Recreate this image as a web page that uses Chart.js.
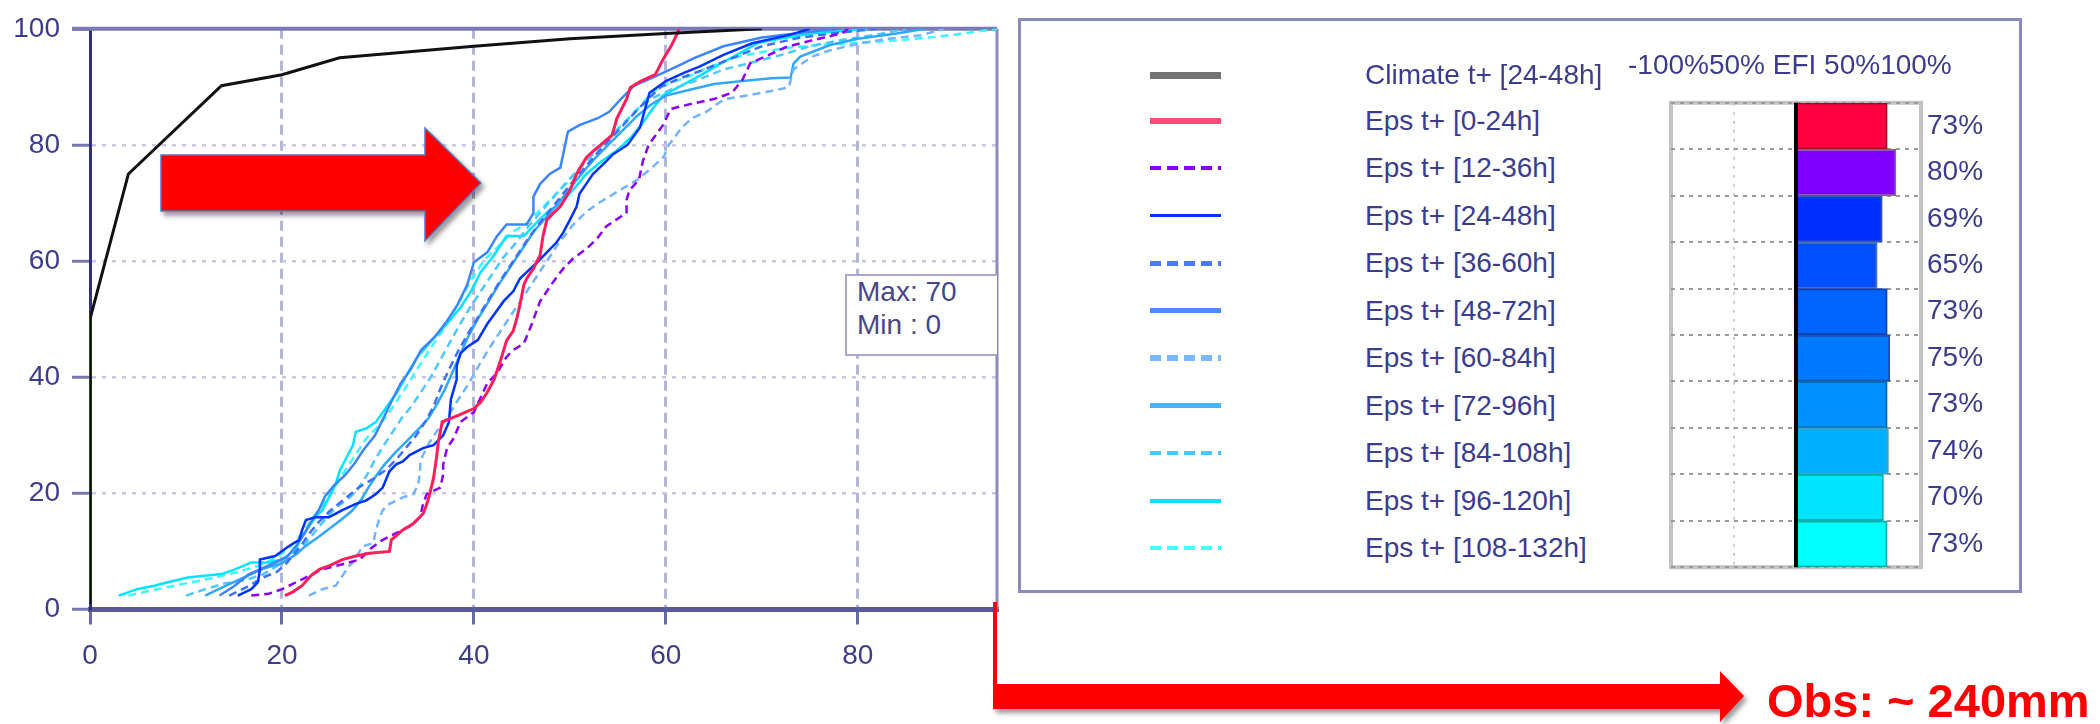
<!DOCTYPE html>
<html><head><meta charset="utf-8">
<script src="https://cdn.jsdelivr.net/npm/chart.js@4.4.1/dist/chart.umd.min.js"></script>
<style>
html,body{margin:0;padding:0;background:#fff;width:2100px;height:724px;overflow:hidden;font-family:'Liberation Sans',Arial,sans-serif;}
.abs{position:absolute;}
#c1{position:absolute;left:0;top:0;}
#c2{position:absolute;left:1640px;top:80px;}
.txt{position:absolute;font-size:28px;color:#3c3c8c;line-height:34px;white-space:nowrap;}
</style></head><body>
<div id="legendBox" class="abs" style="left:1018px;top:18px;width:998px;height:569px;border:3px solid #8a8abc;"></div>
<canvas id="c1" width="1000" height="724"></canvas>
<canvas id="c2" width="400" height="510"></canvas>
<div class="abs" style="left:845px;top:274px;width:150px;height:78px;border:2px solid #a8a8cc;border-right:none;background:#fff;"></div>
<div class="txt" style="left:857px;top:275px;color:#46468a;">Max: 70</div>
<div class="txt" style="left:857px;top:308px;color:#46468a;">Min : 0</div>
<div class="txt" style="left:1628px;top:48px;">-100%50% EFI 50%100%</div>
<div id="legend"></div>
<svg class="abs" style="left:0;top:0;pointer-events:none" width="2100" height="724">
<defs><filter id="sh" x="-10%" y="-20%" width="130%" height="160%"><feDropShadow dx="3" dy="4" stdDeviation="2.5" flood-color="#000" flood-opacity="0.4"/></filter></defs>
<polygon points="161,155 425,155 425,128 481,183 425,241 425,211 161,211" fill="#ff0000" stroke="#5a78b4" stroke-width="1.5" filter="url(#sh)"/>
<line x1="995" y1="602" x2="995" y2="690" stroke="#ff0000" stroke-width="4"/>
<polygon points="993,684 1720,684 1720,671 1744,696 1720,722 1720,709 993,709" fill="#ff0000" filter="url(#sh)"/>
</svg>
<div class="abs" style="left:1767px;top:673px;font-size:47px;line-height:56px;font-weight:bold;color:#ff0000;white-space:nowrap;">Obs: ~ 240mm</div>
<script>
// ---------- data ----------
const xTickValues = [0, 20, 40, 60, 80];
const yTickValues = [0, 20, 40, 60, 80, 100];
const efiTicks = [-100, -50, 0, 50, 100];

const climateLabel = 'Climate t+ [24-48h]';
const epsLabels = ['Eps t+ [0-24h]','Eps t+ [12-36h]','Eps t+ [24-48h]','Eps t+ [36-60h]','Eps t+ [48-72h]','Eps t+ [60-84h]','Eps t+ [72-96h]','Eps t+ [84-108h]','Eps t+ [96-120h]','Eps t+ [108-132h]'];
const efiValues = [73, 80, 69, 65, 73, 75, 73, 74, 70, 73];

const climate = [[0,1],[0,50],[4,75],[13.7,90.2],[20,92.1],[26,95],[33,96],[40,97],[50,98.3],[60,99.2],[70,100]];

const eps0_24 = [[20.3,2.4],[21.1,3],[22.1,4.1],[23,5.8],[23.9,6.9],[24.9,7.5],[26.3,8.6],[27.7,9.2],[29.1,9.7],[31.2,10],[31.4,12],[32.6,13.7],[33.7,14.8],[34.7,16.5],[35.1,18.2],[35.4,19.9],[35.8,22.7],[36.1,26.1],[36.3,28.9],[36.7,32.3],[38.3,33.4],[40,34.6],[40.7,35.7],[41.4,37.4],[42.1,39.6],[42.8,43],[43.4,46.3],[44.1,48],[44.5,50.3],[44.8,52.5],[45.2,55.9],[45.5,57],[46.2,58.7],[46.9,61],[47.2,64.3],[47.6,67.1],[48.3,68.3],[49,69.4],[50,72.2],[50.7,75],[51.7,77.8],[52.4,78.9],[53.2,80],[54.4,81.7],[54.9,84.6],[55.9,87.9],[56.3,89.9],[57.4,91],[58.9,92.1],[59.7,94.7],[60.5,96.9],[61.2,99.2],[61.4,100]];

const eps12_36 = [[16.8,2.4],[18.6,2.7],[20,3.5],[22.1,5.2],[24.2,6.9],[26.3,7.8],[28.1,8.6],[29.1,10.3],[30.2,11.7],[31.2,12.6],[33.3,14.3],[34.4,15.9],[34.7,18.2],[35.1,19.9],[36.5,21],[36.8,23.3],[36.8,25],[37.2,27.8],[37.9,29.5],[38.6,32.3],[40,34],[41.4,39],[42.4,40.7],[43.4,43.5],[44.1,44.7],[45.2,45.8],[45.9,48.6],[46.9,53.1],[47.6,54.8],[48.3,56.5],[49.3,58.7],[50.3,60.4],[51.7,62.1],[52.8,63.8],[53.8,66],[54.8,67.1],[55.9,68.3],[55.9,70.5],[56.2,72.2],[57.2,74],[57.6,77.2],[58.2,80],[59.7,83.4],[60.5,86.2],[62.7,87.1],[65,87.9],[66.9,89],[68,91.3],[68.8,94.1],[70.3,95.2],[72.6,96.9],[75.2,98],[78.3,99.2],[79,100]];

const eps24_48 = [[15.4,2.4],[16.8,3.5],[17.5,4.7],[17.7,6.9],[17.7,8.6],[19.3,9.2],[20.7,10.9],[21.8,12],[22.1,13.7],[22.5,15.4],[23.5,15.9],[24.9,15.9],[26.3,17.1],[27.7,18.2],[28.8,18.8],[29.8,19.9],[30.5,21],[31.2,23.8],[31.9,25],[32.6,25.5],[33.3,26.6],[34.7,27.8],[35.8,28.3],[36.8,30],[37.4,32.3],[37.6,36.2],[38.2,39.6],[38.2,41.9],[38.6,44.1],[39.3,45.2],[40.4,46.4],[41.4,49.2],[42.1,50.8],[43.1,53.1],[44.1,54.8],[44.8,57],[45.5,58.1],[46.6,59.8],[47.6,61.5],[48.6,63.2],[49.3,64.9],[50,67.1],[50.7,69.4],[51,71.6],[51.7,73.3],[52.4,75],[53.1,76.1],[53.8,77.2],[54.5,78.4],[56,80],[57.3,83],[57.8,86],[58.3,89],[60,91],[62,92.5],[63.5,93.5],[66,95.5],[69,97.5],[73,99],[75,100]];

const eps36_60 = [[14.5,2.4],[16.5,4],[18,5.5],[19.5,6.5],[20.5,8],[21.2,9.5],[22,11],[22.8,13],[23.8,15],[25,17],[26.5,19],[28,21],[29.5,22.5],[30.8,24],[32,26],[33,28],[34,30],[35,32.5],[35.8,35],[36.5,38],[37.3,41],[38.2,44],[39.2,47],[40.3,50],[41.4,53],[42.5,56],[43.5,58.5],[44.5,61],[45.5,63.5],[46.6,66],[47.8,68.5],[49,71],[50.2,73.5],[51.5,76],[52.8,78.5],[54.2,81],[55.6,83.5],[57,86],[58.2,88],[59.5,90],[61.5,91.5],[64,93],[67,95],[70,97],[74,98.5],[79,99.5],[82,100]];

const eps48_72 = [[13.5,2.4],[15,4],[16.5,6],[18.5,7.5],[20.5,9],[21.5,11],[22.3,13],[23,15],[23.8,17],[24.5,19.5],[25.5,21.5],[26.5,23],[27.5,25],[28.5,27.5],[29.7,30],[30.7,33.4],[31.7,36.8],[32.4,39],[33.4,41.3],[34.5,44.7],[35.9,46.9],[37.2,49.7],[38.3,52.5],[39.3,55.9],[40,59.8],[41.4,61.5],[42.4,64.3],[43.4,66.3],[45.5,66.3],[46.2,68.3],[46.2,71.1],[46.9,73.3],[47.9,75],[49,76.1],[49.3,78.4],[49.8,82.3],[51,83.4],[52.9,84.6],[54.1,85.7],[55.3,87.9],[56.7,90.2],[58.5,91.5],[60.5,93],[63,95],[66,97],[70,98.5],[75,99.5],[78,100]];

const eps60_84 = [[22.8,2.4],[24.2,3.5],[25.6,4.1],[26.3,5.8],[27,7.5],[27.4,8.1],[28.4,10.9],[29.5,11.4],[29.8,13.7],[30.2,15.9],[30.5,17.1],[31.2,18.2],[32.6,19.3],[33.7,19.9],[34.2,21.6],[34.4,23.8],[34.4,25.5],[34.7,26.6],[35.4,28.9],[36.1,30.6],[37.2,33],[38.3,36],[39.5,39],[40.5,42],[41.6,45],[42.8,48],[44,51],[45.2,54],[46.4,57],[47.6,60],[48.8,63],[50.2,66],[51.7,68.5],[53,70],[55,72],[57,74],[58.5,76],[59.8,78],[60.3,80],[61,81.5],[61.6,82.9],[62.7,84.6],[64.2,85.7],[66.1,87.9],[68.4,88.5],[71,89.3],[72.8,89.9],[73.3,93],[75.2,95.2],[77.1,96.3],[80.2,97.5],[83.2,98.3],[86.6,98.9],[89,100]];

const eps72_96 = [[12,2.4],[14,4],[16,5.5],[18,7],[20,8],[21.5,9.5],[22.5,11],[23.8,12.5],[25,14],[26.2,15.5],[27.3,17],[28.3,19],[29,21],[29.8,23],[30.7,25],[31.8,27],[33,29],[34.2,31],[35.3,33],[36.2,35.5],[37,38],[37.8,41],[38.6,44],[39.4,47],[40.4,50],[41.5,53],[42.6,56],[43.8,59],[45,62],[46.2,65],[47.5,67.5],[48.8,70],[50,72.5],[51.2,75],[52.5,77.5],[54,80],[55.5,82.5],[57,85],[58.5,87],[60,88.5],[62.5,89.5],[65,90.5],[68,91],[71,91.5],[73,91.6],[73.3,94],[74,95.2],[77.1,97.2],[80,98.3],[84,99.2],[87,100]];

const eps84_108 = [[10,2.4],[12,3.5],[14,4.5],[16,5],[18,6],[19.5,7.5],[21,9],[22,10.5],[23,12.5],[24,14.5],[25,16.5],[26,18],[27.2,19.5],[28,21],[28.8,23],[29.6,25.5],[30.5,28],[31.5,30.5],[32.5,33],[33.5,35],[34.5,37.5],[35.5,40],[36.5,43],[37.5,46],[38.5,49],[39.6,52],[40.8,55],[42,58],[43,60.5],[44.3,63],[45.7,66],[47,68.5],[48.3,71],[49.6,73.5],[51,76],[52.5,78.5],[54,81],[55.5,83.5],[57,86],[58.5,88],[60.5,89.5],[63,91],[66,93],[68.5,94],[72,95.5],[75,97],[78,98],[82,99],[85,100]];

const eps96_120 = [[3,2.4],[4.9,3.5],[6.7,4.1],[8.1,4.7],[10.2,5.5],[11.9,5.8],[13.7,6.1],[15.1,6.9],[16.8,8.1],[18.6,8.1],[20,8.6],[21.4,10.3],[22.1,12.6],[22.8,14.3],[23.5,15.9],[24.2,17.1],[24.9,19.3],[25.6,21.6],[26,23.8],[26.7,26.1],[27.4,28.3],[27.7,30.6],[28.8,31.2],[29.8,32.3],[31,35.1],[32,37.4],[33.1,40.7],[34.1,43.5],[35.9,46.9],[37.2,49.2],[38.6,52],[39.7,54.8],[40.7,58.1],[42.1,61],[43.4,64.3],[45.2,64.3],[46.8,67.1],[47.9,68.8],[49.1,69.9],[50.6,72.8],[51.7,75],[53.3,77.2],[54.8,78.9],[56.3,81.2],[57.4,83.4],[58.6,86.2],[59.7,88.5],[61.6,90.2],[63.5,91.9],[65.8,94.1],[67.7,95.8],[69.5,97.5],[71.8,98.3],[75.2,99.2],[79,99.7],[81,100]];

const eps108_132 = [[4,2.4],[7,3.5],[10,4.5],[13,5.5],[15.5,6.5],[17.5,7.5],[19.5,9],[21,11],[22.3,13.5],[23.3,16],[24.5,18.5],[25.5,21],[26.6,24],[27.8,27],[28.8,29.5],[30,31.5],[31,33.5],[32,36],[33.2,39],[34.3,42],[35.5,45],[36.7,48],[37.8,51],[38.8,54],[39.8,57],[41,60],[42.5,62.5],[44,65],[45.5,66.5],[47,69],[48.5,71.5],[50,74],[51.5,77],[53,79.5],[54.5,82],[56,84.5],[57.5,87],[58.5,89],[60,90.5],[62,91.5],[64,93],[67,95],[70,96],[73,96.8],[76,97.2],[80,97.6],[84,98],[88,98.6],[91,99.2],[94.5,100]];

const epsSeries = [eps0_24, eps12_36, eps24_48, eps36_60, eps48_72, eps60_84, eps72_96, eps84_108, eps96_120, eps108_132];

// ---------- styles ----------
const climateColor = '#111111';
const epsColors = ['#ff1e5a','#8a00ff','#0033ff','#3f6fff','#3d85ff','#72b4ff','#30a8f8','#4cc8ff','#00e4ff','#3cf8ff'];
const epsDash = [[],[8,5],[],[8,5],[],[8,5],[],[8,5],[],[8,5]];
const legendColors = ['#747474','#ff4a7a','#8800ff','#0033ff','#4a78ff','#4a8cff','#78b8ff','#48b4ff','#48c8ff','#00e4ff','#44ffff'];
const legendThick = [7,6,4,3,5,5,6,5,4,4,4];
const barColors = ['#ff0040','#8000ff','#0030ff','#0050ff','#0064ff','#0078ff','#0090ff','#00b0ff','#00e4ff','#00ffff'];
const barBorders = ['#b00030','#9050c8','#3050c0','#5070b0','#1040b0','#2050b0','#0070b0','#40a0c0','#10b0b0','#10b0b0'];

Chart.defaults.font.family = "'Liberation Sans', Arial, sans-serif";

// ---------- legend (HTML) ----------
const lg = document.getElementById('legend');
const allLabels = [climateLabel].concat(epsLabels);
allLabels.forEach((lab, i) => {
  const cy = i === 0 ? 75 : 120.75 + 47.5 * (i - 1);
  const line = document.createElement('div');
  line.className = 'abs';
  const dashed = i > 0 && epsDash[i - 1].length > 0;
  const th = legendThick[i];
  line.style.cssText = `left:1150px;top:${cy - th/2}px;width:71px;height:${th}px;` +
    (dashed ? `background:repeating-linear-gradient(to right, ${legendColors[i]} 0 11px, transparent 11px 17px);`
            : `background:${legendColors[i]};`);
  lg.appendChild(line);
  const t = document.createElement('div');
  t.className = 'txt';
  t.style.left = '1365px';
  t.style.top = (cy - 17) + 'px';
  t.textContent = lab;
  lg.appendChild(t);
});

// ---------- main CDF chart ----------
const framePlugin = {
  id: 'frame',
  beforeDatasetsDraw(chart) {
    const {ctx, chartArea: a} = chart;
    ctx.save();
    ctx.strokeStyle = '#7a7ab4'; ctx.lineWidth = 4;
    ctx.beginPath(); ctx.moveTo(a.left - 18, a.top); ctx.lineTo(a.right, a.top); ctx.stroke();
    ctx.strokeStyle = '#8a8abc'; ctx.lineWidth = 3;
    ctx.beginPath(); ctx.moveTo(a.right, a.top); ctx.lineTo(a.right, a.bottom); ctx.stroke();
    ctx.restore();
  }
};

const datasets = [{
  label: climateLabel, data: climate, borderColor: climateColor, borderWidth: 3
}].concat(epsSeries.map((d, i) => ({
  label: epsLabels[i], data: d, borderColor: epsColors[i],
  borderWidth: i === 0 ? 3 : 2.5, borderDash: epsDash[i]
})));

new Chart(document.getElementById('c1'), {
  type: 'line',
  data: { datasets },
  options: {
    responsive: false, animation: false, devicePixelRatio: 1,
    layout: { padding: { left: 0, right: 3, top: 19, bottom: 0 } },
    plugins: { legend: { display: false }, tooltip: { enabled: false } },
    elements: { point: { radius: 0 }, line: { tension: 0, borderJoinStyle: 'miter' } },
    scales: {
      x: {
        type: 'linear', min: 0, max: 94.5,
        afterBuildTicks: s => { s.ticks = xTickValues.map(v => ({ value: v })); },
        afterFit: s => { s.height = 114.5; },
        ticks: { font: { size: 28 }, color: '#3c3c8c', padding: 15, maxRotation: 0, autoSkip: false },
        grid: { color: '#b4b4d6', lineWidth: 3, tickLength: 15, tickColor: '#6a6aa4', tickWidth: 3, tickBorderDash: [] },
        border: { color: '#5a5a9a', width: 5, dash: [10, 6] }
      },
      y: {
        type: 'linear', min: 0, max: 100,
        afterBuildTicks: s => { s.ticks = yTickValues.map(v => ({ value: v })); },
        afterFit: s => { s.width = 90; },
        ticks: { font: { size: 28 }, color: '#3c3c8c', padding: 12 },
        grid: { color: '#c8c8e2', lineWidth: 2.5, tickLength: 18, tickColor: '#7878b0', tickWidth: 3, tickBorderDash: [] },
        border: { color: '#30307e', width: 3, dash: [4, 6] }
      }
    }
  },
  plugins: [framePlugin]
});

// ---------- EFI bar chart ----------
const boxPlugin = {
  id: 'efibox',
  beforeDraw(chart) {
    const {ctx, chartArea: a} = chart;
    ctx.save();
    ctx.strokeStyle = '#c2c2c2'; ctx.lineWidth = 4;
    ctx.strokeRect(a.left, a.top, a.right - a.left, a.bottom - a.top);
    ctx.restore();
  },
  afterDatasetsDraw(chart) {
    const {ctx, chartArea: a, scales} = chart;
    const x0 = scales.x.getPixelForValue(0);
    ctx.save();
    ctx.strokeStyle = '#000'; ctx.lineWidth = 4;
    ctx.beginPath(); ctx.moveTo(x0, a.top); ctx.lineTo(x0, a.bottom); ctx.stroke();
    ctx.restore();
  }
};

new Chart(document.getElementById('c2'), {
  type: 'bar',
  data: {
    labels: epsLabels,
    datasets: [{
      data: efiValues, backgroundColor: barColors, borderColor: barBorders,
      borderWidth: 2, borderSkipped: 'start', barPercentage: 1, categoryPercentage: 1
    }]
  },
  options: {
    indexAxis: 'y', responsive: false, animation: false, devicePixelRatio: 1,
    layout: { padding: { left: 31, top: 17, bottom: 18, right: 0 } },
    plugins: { legend: { display: false }, tooltip: { enabled: false } },
    scales: {
      x: {
        type: 'linear', min: -100, max: 100,
        afterBuildTicks: s => { s.ticks = efiTicks.map(v => ({ value: v })); },
        afterFit: s => { s.height = 0; },
        ticks: { display: false },
        grid: { drawTicks: false, lineWidth: 2,
          color: c => (c.tick && Math.abs(c.tick.value) === 50) ? '#cfcfcf' : 'rgba(0,0,0,0)' },
        border: { display: false, dash: [3, 6] }
      },
      y: {
        position: 'right',
        afterFit: s => { s.width = 119; },
        ticks: { padding: 6, font: { size: 28 }, color: '#3c3c8c', callback: (v, i) => efiValues[i] + '%' },
        grid: { offset: true, drawTicks: false, color: '#9a9a9a', lineWidth: 2 },
        border: { display: false, dash: [4, 5] }
      }
    }
  },
  plugins: [boxPlugin]
});
</script>
</body></html>
